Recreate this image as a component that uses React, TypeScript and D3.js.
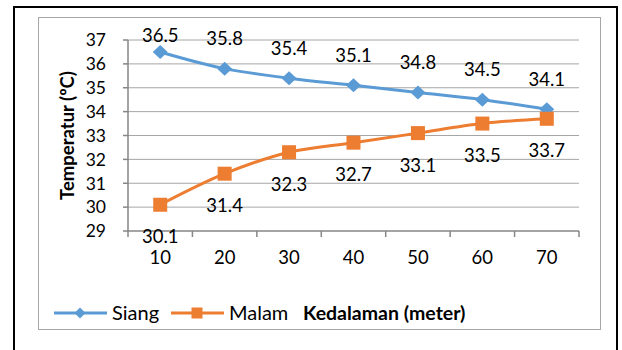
import React from "react";
import * as d3 from "d3";

const depths = ["10", "20", "30", "40", "50", "60", "70"];
const siang = [36.5, 35.8, 35.4, 35.1, 34.8, 34.5, 34.1];
const malam = [30.1, 31.4, 32.3, 32.7, 33.1, 33.5, 33.7];
const yTicks = [29, 30, 31, 32, 33, 34, 35, 36, 37];
const seriesNames = ["Siang", "Malam"];
const yTitle = "Temperatur (ºC)";
const xTitle = "Kedalaman (meter)";

const W = 622, H = 350;
const plot = { left: 128, right: 579, top: 40, bottom: 231 };
const BLUE = "#5B9BD5";
const ORANGE = "#ED7D31";
const FONT = "Lato, 'Open Sans', sans-serif";

export default function App() {
  const x = d3.scaleBand<string>().domain(depths).range([plot.left, plot.right]);
  const cx = (d: string) => (x(d) as number) + x.bandwidth() / 2;
  const y = d3.scaleLinear().domain([29, 37]).range([plot.bottom, plot.top]);
  const line = d3
    .line<number>()
    .x((_, i) => cx(depths[i]))
    .y((v) => y(v))
    .curve(d3.curveCatmullRom.alpha(0.5));

  const diamond = (px: number, py: number, hw: number, hh: number) =>
    `M${px},${py - hh}L${px + hw},${py}L${px},${py + hh}L${px - hw},${py}Z`;

  const bounds = [...depths.map((d) => x(d) as number), plot.right];

  return (
    <svg width={W} height={H} style={{ position: "absolute", left: 0, top: 0 }}>
      <rect x={0} y={0} width={W} height={H} fill="#fff" />
      <rect x={14} y={7} width={603} height={360} fill="none" stroke="#000" strokeWidth={2} />
      <rect x={38.5} y={17.5} width={562} height={312} fill="none" stroke="#A6A6A6" strokeWidth={1} />

      {yTicks.map((t) => (
        <g key={t}>
          {t !== 29 && (
            <line x1={plot.left} x2={plot.right} y1={y(t)} y2={y(t)} stroke="#A6A6A6" strokeWidth={1} />
          )}
          <line x1={plot.left - 5} x2={plot.left} y1={y(t)} y2={y(t)} stroke="#868686" strokeWidth={1.5} />
          <text x={106} y={y(t)} dy="0.36em" textAnchor="end" fontFamily={FONT} fontSize={17.5} fill="#000">
            {t}
          </text>
        </g>
      ))}
      <line x1={plot.left} x2={plot.left} y1={plot.top} y2={plot.bottom} stroke="#868686" strokeWidth={1.5} />
      <line x1={plot.left} x2={plot.right} y1={plot.bottom} y2={plot.bottom} stroke="#868686" strokeWidth={1.5} />
      {bounds.map((b, i) => (
        <line key={i} x1={b} x2={b} y1={plot.bottom} y2={plot.bottom + 6} stroke="#868686" strokeWidth={1.5} />
      ))}
      {depths.map((d) => (
        <text key={d} x={cx(d)} y={257} dy="0.36em" textAnchor="middle" fontFamily={FONT} fontSize={18.5} fill="#000">
          {d}
        </text>
      ))}

      <text
        transform={`translate(67,${(plot.top + plot.bottom) / 2}) rotate(-90)`}
        textAnchor="middle"
        dy="0.36em"
        fontFamily={FONT}
        fontWeight="bold"
        fontSize={18.5}
        fill="#000"
      >
        {yTitle}
      </text>

      <path d={line(siang) || ""} fill="none" stroke={BLUE} strokeWidth={3} />
      <path d={line(malam) || ""} fill="none" stroke={ORANGE} strokeWidth={3} />
      {siang.map((v, i) => (
        <path key={i} d={diamond(cx(depths[i]), y(v), 7.5, 7)} fill={BLUE} />
      ))}
      {malam.map((v, i) => (
        <rect key={i} x={cx(depths[i]) - 7} y={y(v) - 7} width={14} height={14} fill={ORANGE} />
      ))}
      {siang.map((v, i) => (
        <text key={i} x={cx(depths[i])} y={Math.max(y(v) - 30, 35)} dy="0.36em" textAnchor="middle" fontFamily={FONT} fontSize={18.5} fill="#000">
          {v.toFixed(1)}
        </text>
      ))}
      {malam.map((v, i) => (
        <text key={i} x={cx(depths[i])} y={y(v) + 32} dy="0.36em" textAnchor="middle" fontFamily={FONT} fontSize={18.5} fill="#000">
          {v.toFixed(1)}
        </text>
      ))}

      <line x1={54} x2={107} y1={313} y2={313} stroke={BLUE} strokeWidth={3} />
      <path d={diamond(80, 313, 5.5, 5.5)} fill={BLUE} />
      <text x={112} y={313} dy="0.36em" fontFamily={FONT} fontSize={20} fill="#000">{seriesNames[0]}</text>
      <line x1={171} x2={224} y1={313} y2={313} stroke={ORANGE} strokeWidth={3} />
      <rect x={191.5} y={307.5} width={11} height={11} fill={ORANGE} />
      <text x={229} y={313} dy="0.36em" fontFamily={FONT} fontSize={20} fill="#000">{seriesNames[1]}</text>
      <text x={303} y={313} dy="0.36em" fontFamily={FONT} fontWeight="bold" fontSize={19.5} fill="#000">{xTitle}</text>
    </svg>
  );
}
